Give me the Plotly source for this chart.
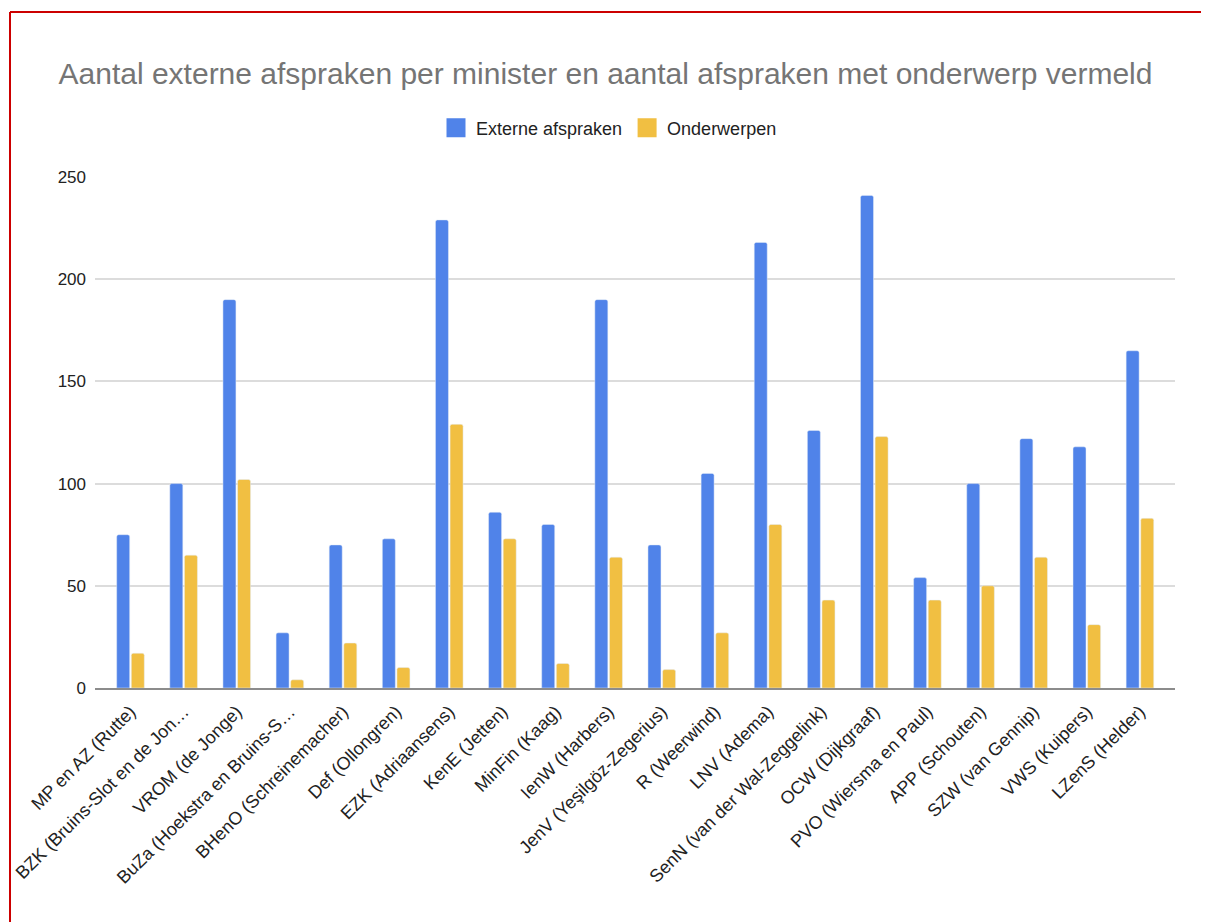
import plotly.graph_objects as go

categories = [
    "MP en AZ (Rutte)",
    "BZK (Bruins-Slot en de Jon…",
    "VROM (de Jonge)",
    "BuZa (Hoekstra en Bruins-S…",
    "BHenO (Schreinemacher)",
    "Def (Ollongren)",
    "EZK (Adriaansens)",
    "KenE (Jetten)",
    "MinFin (Kaag)",
    "IenW (Harbers)",
    "JenV (Yeşilgöz-Zegerius)",
    "R (Weerwind)",
    "LNV (Adema)",
    "SenN (van der Wal-Zeggelink)",
    "OCW (Dijkgraaf)",
    "PVO (Wiersma en Paul)",
    "APP (Schouten)",
    "SZW (van Gennip)",
    "VWS (Kuipers)",
    "LZenS (Helder)",
]
externe_afspraken = [75, 100, 190, 27, 70, 73, 229, 86, 80, 190,
                     70, 105, 218, 126, 241, 54, 100, 122, 118, 165]
onderwerpen = [17, 65, 102, 4, 22, 10, 129, 73, 12, 64,
               9, 27, 80, 43, 123, 43, 50, 64, 31, 83]
y_ticks = [0, 50, 100, 150, 200, 250]

title = "Aantal externe afspraken per minister en aantal afspraken met onderwerp vermeld"

BLUE = "#5083e9"
YELLOW = "#f1bf42"

# page has an 8px body margin, so the figure is a bit smaller than the window
W, H = 1201, 914
L, R, T, B = 87, 34, 169, 234
FONT = "Liberation Sans, Arial, sans-serif"


def px_x(px):
    return (px - L) / (W - L - R)


def px_y(py):
    return (H - B - py) / (H - T - B)


fig = go.Figure()
fig.add_trace(go.Bar(x=categories, y=externe_afspraken, name="Externe afspraken",
                     marker=dict(color=BLUE, cornerradius=2), showlegend=False))
fig.add_trace(go.Bar(x=categories, y=onderwerpen, name="Onderwerpen",
                     marker=dict(color=YELLOW, cornerradius=2), showlegend=False))
# legend entries with bigger square swatches
for name, color in [("Externe afspraken", BLUE), ("Onderwerpen", YELLOW)]:
    fig.add_trace(go.Scatter(x=[None], y=[None], mode="markers", name=name,
                             marker=dict(symbol="square", size=16, color=color,
                                         line=dict(color=color, width=3))))

fig.update_layout(
    width=W, height=H,
    margin=dict(l=L, r=R, t=T, b=B, autoexpand=False),
    paper_bgcolor="white", plot_bgcolor="white",
    font=dict(family=FONT, color="#222222", size=17),
    barmode="group", bargap=0.45, bargroupgap=0.11,
    title=dict(text=title, x=597.5 / W, xref="container", xanchor="center",
               y=1 - 65 / H, yref="container", yanchor="middle",
               font=dict(size=30, color="#757575", family=FONT)),
    legend=dict(orientation="h", x=601 / W, xanchor="center", xref="container",
                y=1 - 120 / H, yanchor="middle", yref="container",
                font=dict(size=18, color="#222222"), itemwidth=30,
                traceorder="normal"),
)
fig.update_xaxes(tickangle=-45, range=[-0.668, 19.66], showgrid=False, showline=True,
                 linecolor="#8c8c8c", linewidth=2, ticks="",
                 tickfont=dict(size=18, color="#222222"), ticklabelstandoff=4)
fig.update_yaxes(range=[0, 250], tickvals=y_ticks, showgrid=True, gridcolor="#dcdcdc",
                 gridwidth=1.5, zeroline=False, ticks="", showline=False,
                 tickfont=dict(size=17, color="#222222"), ticklabelstandoff=8)

# red frame around screenshot (top and left edges)
fig.add_shape(type="line", xref="paper", yref="paper",
              x0=px_x(2), x1=px_x(W + 5), y0=px_y(4), y1=px_y(4),
              line=dict(color="#cc0000", width=2))
fig.add_shape(type="line", xref="paper", yref="paper",
              x0=px_x(2), x1=px_x(2), y0=px_y(4), y1=px_y(H + 5),
              line=dict(color="#cc0000", width=2))

fig.write_html("out.html")
